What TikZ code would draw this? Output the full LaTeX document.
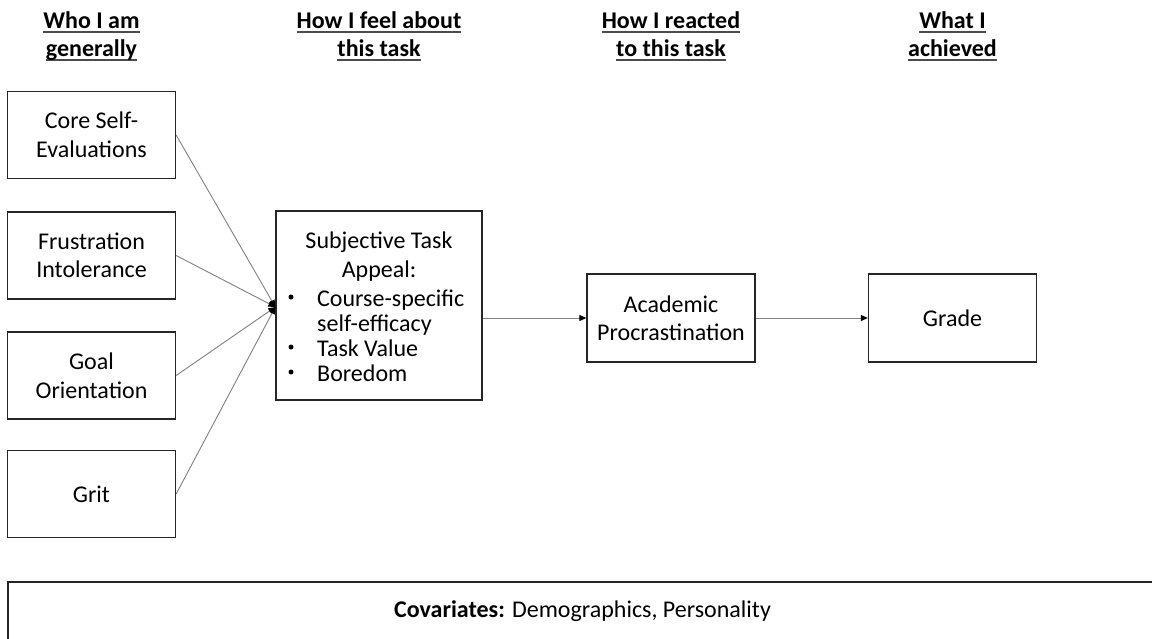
\documentclass[tikz,border=0pt]{standalone}
\usepackage{fontspec}
\setmainfont{Carlito}
\usetikzlibrary{arrows.meta}
\newcommand{\hdrul}[1]{\setbox0=\hbox{#1}\rlap{\color{black!70}\rule[-4.5pt]{\wd0}{2pt}}\box0}
\begin{document}
\begin{tikzpicture}[x=1pt,y=-1pt,
  every node/.style={font=\fontsize{24}{28.5}\selectfont, text=black},
  box/.style={draw=black!85, line width=1.3pt, align=center, inner sep=0pt},
  smallbox/.style={box, minimum width=168pt, minimum height=87pt},
  hdr/.style={anchor=base, inner sep=0pt, font=\fontsize{24}{28.5}\selectfont\bfseries},
  txt/.style={inner sep=0pt},
  bul/.style={circle, fill=black, inner sep=0pt, minimum size=5pt},
  conn/.style={draw=black!50, line width=0.9pt, -{Triangle[length=7pt,width=6pt,color=black]}}
]
\path[use as bounding box] (0,0) rectangle (1152,638);
\clip (0,0) rectangle (1152,638);

% column headers
\node[hdr] (h1a) at (91.5,28.5) {\hdrul{Who I am}};
\node[hdr] (h1b) at (91.5,56.5) {\hdrul{generally}};
\node[hdr] (h2a) at (379,28.5) {\hdrul{How I feel about}};
\node[hdr] (h2b) at (379,56.5) {\hdrul{this task}};
\node[hdr] (h3a) at (671,28.5) {\hdrul{How I reacted}};
\node[hdr] (h3b) at (671,56.5) {\hdrul{to this task}};
\node[hdr] (h4a) at (952.5,28.5) {\hdrul{What I}};
\node[hdr] (h4b) at (952.5,56.5) {\hdrul{achieved}};

% left column
\node[smallbox] (cse) at (91.5,135) {Core Self-\\Evaluations};
\node[smallbox] (fi) at (91.5,255.5) {Frustration\\Intolerance};
\node[smallbox] (go) at (91.5,375.5) {Goal\\Orientation};
\node[smallbox] (grit) at (91.5,494) {Grit};

% subjective task appeal
\node[box, minimum width=206pt, minimum height=189pt] (sta) at (379,305.5) {};
\node[txt, anchor=base] (st1) at (379,248.5) {Subjective Task};
\node[txt, anchor=base] (st2) at (379,277) {Appeal:};
\node[bul] (bu1) at (291,297) {};
\node[bul] (bu2) at (291,347) {};
\node[bul] (bu3) at (291,372) {};
\node[txt, anchor=base west] (li1) at (317,306) {Course-specific};
\node[txt, anchor=base west] (li1b) at (317,331) {self-efficacy};
\node[txt, anchor=base west] (li2) at (317,356) {Task Value};
\node[txt, anchor=base west] (li3) at (317,381) {Boredom};

% right boxes
\node[box, minimum width=168pt, minimum height=88pt] (ap) at (671,318) {Academic\\Procrastination};
\node[box, minimum width=168pt, minimum height=88pt] (gr) at (952.5,318) {Grade};

% covariates
\node[box, minimum width=1149pt, minimum height=58pt] (cov) at (582.5,611) {\textbf{Covariates:} Demographics, Personality};

% connectors
\draw[conn] (cse.east) -- ([yshift=-1.5pt]sta.west);
\draw[conn] (fi.east) -- ([yshift=-1.5pt]sta.west);
\draw[conn] (go.east) -- ([yshift=-1.5pt]sta.west);
\draw[conn] (grit.east) -- ([yshift=-1.5pt]sta.west);
\draw[conn] (ap.west -| sta.east) -- (ap.west);
\draw[conn] (ap.east) -- (gr.west);
\end{tikzpicture}
\end{document}
